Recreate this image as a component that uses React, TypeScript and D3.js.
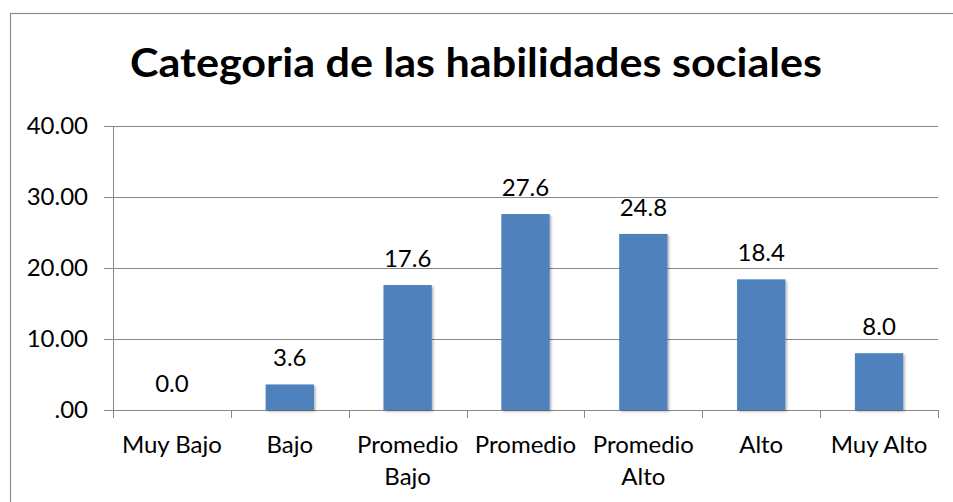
import React from 'react'
import * as d3 from 'd3'

const CATEGORIES = ['Muy Bajo', 'Bajo', 'Promedio Bajo', 'Promedio', 'Promedio Alto', 'Alto', 'Muy Alto']
const VALUES = [0.0, 3.6, 17.6, 27.6, 24.8, 18.4, 8.0]
const Y_TICKS = [0, 10, 20, 30, 40]
const Y_TICK_LABELS = ['.00', '10.00', '20.00', '30.00', '40.00']
const TITLE = 'Categoria de las habilidades sociales'

const W = 953
const H = 502
const FONT = 'Lato, "Open Sans", sans-serif'
const FS = 24

export default function App() {
  const left = 113, right = 938, top = 126, bottom = 410

  const x = d3.scaleBand().domain(CATEGORIES).range([left, right]).paddingInner(0.59).paddingOuter(0.295)
  const band = d3.scaleBand().domain(CATEGORIES).range([left, right])
  const y = d3.scaleLinear().domain([0, 40]).range([bottom, top])

  return (
    <svg width={W} height={H} style={{ position: 'absolute', left: 0, top: 0, background: '#fff' }}>
      <defs>
        <filter id="shadow" x="-20%" y="-20%" width="150%" height="150%">
          <feDropShadow dx="1.5" dy="1.5" stdDeviation="1.2" floodColor="#000" floodOpacity="0.3" />
        </filter>
      </defs>
      {/* outer border */}
      <rect x={10.5} y={13.5} width={W} height={H} fill="none" stroke="#8c8c8c" strokeWidth={1.2} />

      <text x={476} y={77} textAnchor="middle" fontFamily={FONT} fontWeight="bold" fontSize={40}
        textLength={692} lengthAdjust="spacingAndGlyphs" fill="#000">{TITLE}</text>

      {/* gridlines + y ticks */}
      {Y_TICKS.map((t, i) => (
        <g key={t}>
          <line x1={104} x2={right} y1={Math.round(y(t)) + 0.5} y2={Math.round(y(t)) + 0.5} stroke="#888" strokeWidth={1} />
          <text x={88} y={y(t) + 7.5} textAnchor="end" fontFamily={FONT} fontSize={FS} fill="#000">{Y_TICK_LABELS[i]}</text>
        </g>
      ))}
      <line x1={left + 0.5} x2={left + 0.5} y1={top} y2={bottom} stroke="#888" strokeWidth={1} />

      {/* category ticks */}
      {CATEGORIES.map(c => (
        <line key={c} x1={Math.round(band(c)!) + 0.5} x2={Math.round(band(c)!) + 0.5} y1={bottom} y2={bottom + 8} stroke="#888" />
      ))}
      <line x1={right + 0.5} x2={right + 0.5} y1={bottom} y2={bottom + 8} stroke="#888" />

      {/* bars */}
      {CATEGORIES.map((c, i) => (
        <g key={c}>
          {VALUES[i] > 0 && (
            <rect x={x(c)} y={y(VALUES[i])} width={x.bandwidth()} height={bottom - y(VALUES[i])}
              fill="#4f81bd" filter="url(#shadow)" />
          )}
          <text x={x(c)! + x.bandwidth() / 2} y={y(VALUES[i]) - 18} textAnchor="middle" fontFamily={FONT} fontSize={FS} fill="#000">
            {VALUES[i].toFixed(1)}
          </text>
        </g>
      ))}

      {/* category labels */}
      {CATEGORIES.map(c => {
        const cx = band(c)! + band.bandwidth() / 2
        const lines = c.startsWith('Promedio ') ? c.split(' ') : [c]
        return (
          <text key={c} x={cx} y={453} textAnchor="middle" fontFamily={FONT} fontSize={FS} fill="#000">
            {lines.map((l, k) => (
              <tspan key={k} x={cx} dy={k === 0 ? 0 : 32}>{l}</tspan>
            ))}
          </text>
        )
      })}
    </svg>
  )
}
